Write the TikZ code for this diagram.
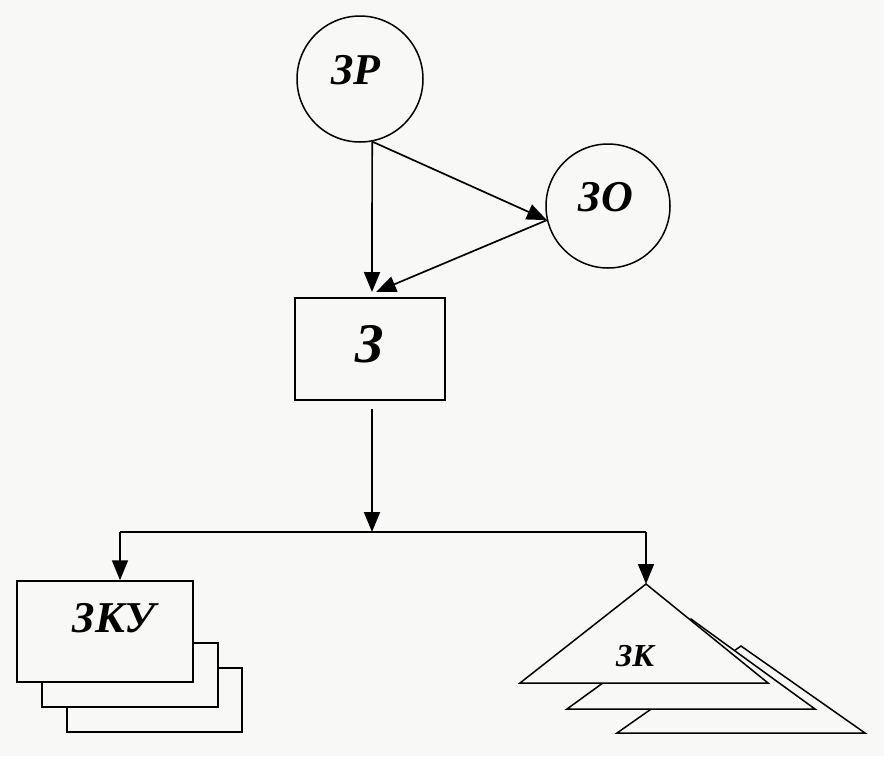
\documentclass[tikz,border=0pt]{standalone}
\usepackage{fontspec}
\setmainfont{Liberation Serif}
\usetikzlibrary{arrows.meta}
\definecolor{paper}{RGB}{248,248,247}
\begin{document}
\begin{tikzpicture}[x=1pt,y=-1pt,line width=1.5pt,
  arr/.style={line width=1.7pt,-{Triangle[length=20pt,width=16pt]}},
  txt/.style={inner sep=0pt,font=\bfseries\itshape\fontsize{#1}{#1}\selectfont},
  shape3/.style={draw,fill=paper,line width=1.5pt}]
\fill[paper] (0,0) rectangle (884,756);
\useasboundingbox (0,0) rectangle (884,756);
% circles and box
\node[circle,draw,minimum size=126pt,inner sep=0pt] (ZR) at (360,79) {};
\node[txt=44] (ZRt) at (356,70) {ЗР};
\node[circle,draw,minimum size=124pt,inner sep=0pt] (ZO) at (608,206) {};
\node[txt=44] (ZOt) at (606,197) {ЗО};
\node[draw,minimum width=150pt,minimum height=102pt,inner sep=0pt] (Z) at (370,349) {};
\node[txt=56] (Zt) at (370,344) {З};
% stacked boxes
\draw[shape3] (67,668) rectangle (242,732);
\draw[shape3] (42,643) rectangle (218,707);
\node[shape3,minimum width=176pt,minimum height=101pt,inner sep=0pt] (ZKU) at (105,631.5) {};
\node[txt=44] (ZKUt) at (114,618) {ЗКУ};
% stacked triangles
\draw[shape3] (741,646) -- (617,733) -- (865,733) -- cycle;
\draw[shape3] (691,619) -- (567,709) -- (815,709) -- cycle;
\draw[shape3] (646,584) -- (520,683) -- (768,683) -- cycle;
\coordinate (ZKtop) at (646,584);
\node[txt=32] (ZKt) at (635,656) {ЗК};
% coordinates
\coordinate (Zin1) at (372,292);
\coordinate (Zin2) at (376,292);
\coordinate (J) at (372,532);
\coordinate (JL) at (120,532);
\coordinate (JR) at (646,532);
% connectors
\draw[arr] (ZR.-79) -- (Zin1);
\draw[arr] (ZR.-79) -- (ZO.193);
\draw[arr] (ZO.193) -- (Zin2);
\draw[arr,shorten <=8pt] (Z.south -| J) -- (J);
\draw[line width=1.7pt] (JL) -- (JR);
\draw[arr] (JL) -- (ZKU.north -| JL);
\draw[arr] (JR) -- (ZKtop);
\end{tikzpicture}
\end{document}
